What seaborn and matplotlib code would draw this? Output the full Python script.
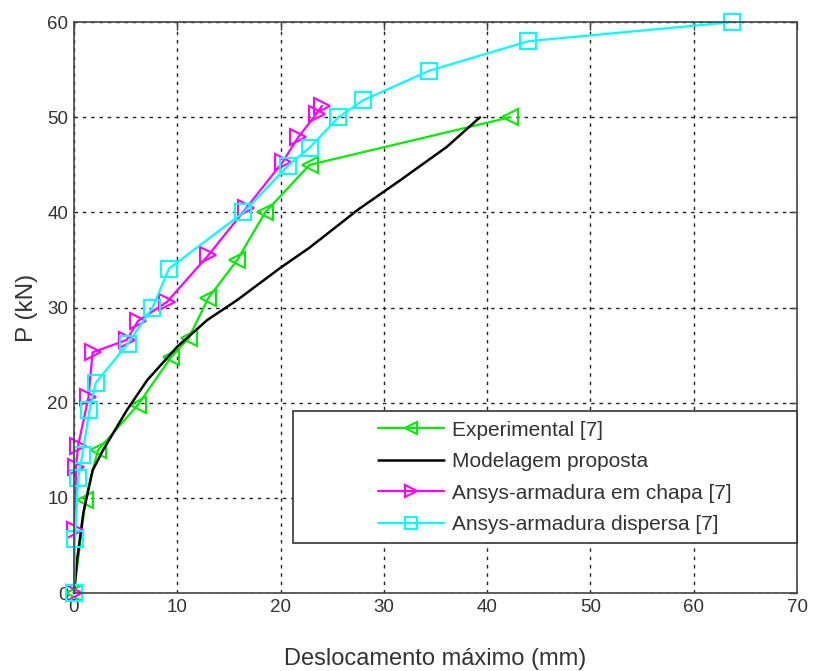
import numpy as np
import pandas as pd
import seaborn as sns
import matplotlib
matplotlib.use("Agg")
import matplotlib.pyplot as plt
from matplotlib.patches import Rectangle

# data
exp_x = [0, 1.1, 2.3, 6.2, 9.4, 11.1, 13.0, 15.8, 18.5, 22.8, 42.2]
exp_y = [0, 9.8, 15.0, 19.8, 24.8, 26.8, 31.0, 35.0, 40.0, 45.0, 50.0]

mod_x = [0, 0.3, 0.9, 1.8, 2.8, 5.1, 7.1, 10.0, 12.9, 15.8, 20.0, 22.8, 27.5, 31.6, 36.1, 39.3]
mod_y = [0, 3.5, 8.4, 12.9, 15.0, 19.2, 22.4, 25.9, 28.7, 30.8, 34.2, 36.3, 40.3, 43.4, 46.9, 50.0]

chapa_x = [0, 0.1, 0.2, 0.4, 1.4, 1.8, 5.1, 6.2, 9.0, 13.0, 16.7, 20.2, 21.7, 23.5, 24.0]
chapa_y = [0, 6.6, 13.3, 15.5, 20.6, 25.3, 26.6, 28.6, 30.6, 35.5, 40.5, 45.3, 47.9, 50.4, 51.2]

disp_x = [0, 0.1, 0.4, 0.8, 1.5, 2.1, 5.2, 7.6, 9.2, 16.4, 20.7, 22.8, 25.6, 28.0, 34.4, 44.0, 63.7]
disp_y = [0, 5.7, 12.1, 14.5, 19.2, 22.1, 26.2, 30.0, 34.1, 40.0, 44.9, 46.8, 50.0, 51.8, 54.9, 58.0, 60.0]

labels = ["Experimental [7]", "Modelagem proposta",
          "Ansys-armadura em chapa [7]", "Ansys-armadura dispersa [7]"]

sns.set_style("white")
plt.rcParams['font.family'] = ['Liberation Sans', 'DejaVu Sans']

fig = plt.figure(figsize=(8.24, 6.71), dpi=100)
ax = fig.add_axes([0.0898, 0.116, 0.8775, 0.851])

mk = dict(markersize=11, markerfacecolor='none', markeredgewidth=1.5, clip_on=False)
sns.lineplot(x=exp_x, y=exp_y, sort=False, estimator=None, ax=ax, color='#00ee00',
             lw=1.6, marker='<', markeredgecolor='#00ee00', label=labels[0], **mk)
sns.lineplot(x=mod_x, y=mod_y, sort=False, estimator=None, ax=ax, color='black',
             lw=1.8, label=labels[1], clip_on=False)
sns.lineplot(x=chapa_x, y=chapa_y, sort=False, estimator=None, ax=ax, color='#ff00ff',
             lw=1.6, marker='>', markeredgecolor='#ff00ff', label=labels[2], **mk)
sns.lineplot(x=disp_x, y=disp_y, sort=False, estimator=None, ax=ax, color='#00ffff',
             lw=1.6, marker='s', markeredgecolor='#00ffff', label=labels[3], **mk)

ax.set_xlim(0, 70)
ax.set_ylim(0, 60)
ax.set_xticks(np.arange(0, 71, 10))
ax.set_yticks(np.arange(0, 61, 10))
ax.grid(True, color='#222222', linestyle=(0, (2.5, 3.5)), linewidth=1)
ax.tick_params(direction='in', top=True, right=True, length=6, width=1,
               color='#444444', labelsize=13.5, labelcolor='#333333', pad=4)
for s in ax.spines.values():
    s.set_visible(True)
    s.set_color('#444444')
    s.set_linewidth(1.2)

ax.set_xlabel("Deslocamento máximo (mm)", fontsize=17, color='#333333', labelpad=23)
ax.set_ylabel("P (kN)", fontsize=17.5, color='#333333', labelpad=7)

# legend box as in the original (wider than its contents)
frame = Rectangle((0.303, 0.0876), 0.697, 0.232, transform=ax.transAxes,
                  facecolor='white', edgecolor='#333333', lw=1.2, zorder=4.5, clip_on=False)
ax.add_patch(frame)
leg = ax.legend(loc='upper left', bbox_to_anchor=(0.42, 0.302), frameon=False,
                fontsize=15, handlelength=3.2, handletextpad=0.35,
                labelspacing=0.6, borderpad=0, borderaxespad=0)
for t in leg.get_texts():
    t.set_color('#333333')
for h in leg.legend_handles:
    h.set_markersize(9)
leg.set_zorder(5)

fig.savefig("out.png", dpi=100)
